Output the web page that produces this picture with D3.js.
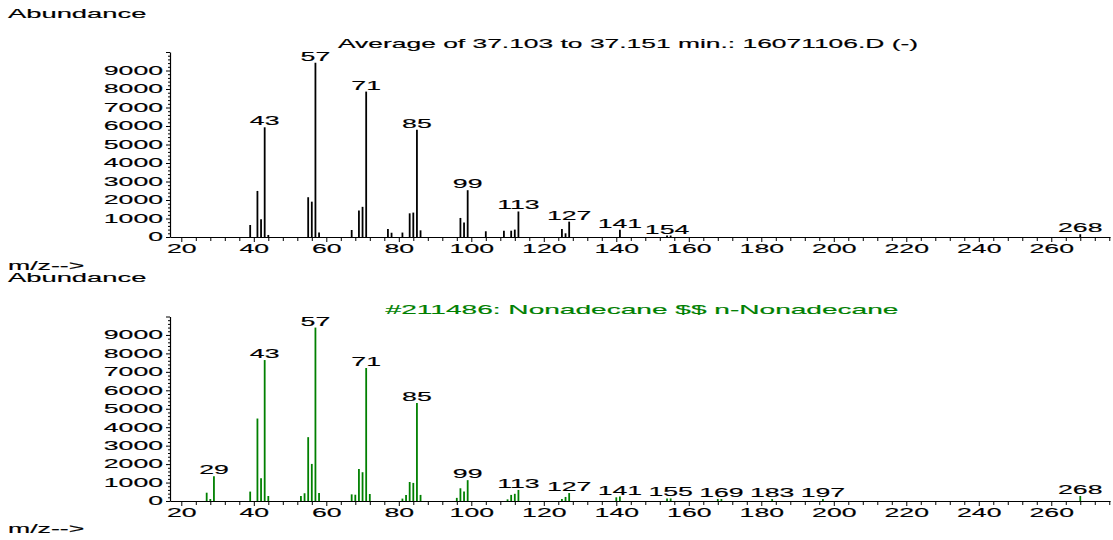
<!DOCTYPE html>
<html>
<head>
<meta charset="utf-8">
<script src="https://cdn.jsdelivr.net/npm/d3@7"></script>
<style>
  body { margin: 0; background: white; }
  text { font-family: "Liberation Sans", Arial, sans-serif; font-size: 12px; }
</style>
</head>
<body>
<div id="vis"></div>
<script>
// scan spectrum (top) and library hit (bottom)
const topMz = [39, 41, 42, 43, 44, 55, 56, 57, 58, 67, 69, 70, 71, 77, 78, 81, 83, 84, 85, 86,
  97, 98, 99, 104, 109, 111, 112, 113, 125, 126, 127, 141, 154, 155, 268];
const topAb = [650, 2490, 960, 5930, 110, 2150, 1910, 9420, 250, 380, 1430, 1630, 7860, 430, 230, 240, 1280, 1320, 5800, 360,
  1030, 780, 2530, 310, 340, 340, 400, 1380, 430, 200, 830, 390, 80, 80, 150];
const topLabels = [43, 57, 71, 85, 99, 113, 127, 141, 154, 268];

const libMz = [27, 28, 29, 39, 41, 42, 43, 44, 53, 54, 55, 56, 57, 58, 67, 68, 69, 70, 71, 72,
  81, 82, 83, 84, 85, 86, 96, 97, 98, 99, 110, 111, 112, 113, 125, 126, 127, 140, 141,
  154, 155, 168, 169, 183, 197, 268];
const libAb = [450, 110, 1340, 510, 4470, 1230, 7640, 270, 270, 420, 3460, 2010, 9400, 430, 360, 340, 1740, 1560, 7210, 380,
  130, 330, 1030, 980, 5310, 330, 170, 690, 510, 1130, 90, 330, 390, 600, 110, 220, 430, 200, 240,
  140, 140, 110, 110, 110, 110, 270];
const libLabels = [29, 43, 57, 71, 85, 99, 113, 127, 141, 155, 169, 183, 197, 268];

const xTicks = d3.range(20, 277, 4);
const yTicks = d3.range(0, 10001, 200);

const W = 1113, H = 540;
const SX = 2.22; // the instrument font is stretched sideways

let svg = d3.select('#vis')
  .append('svg')
  .attr('width', W)
  .attr('height', H)
  .style('background-color', 'white');

// same m/z scale for both panels
let x = d3.scaleLinear().domain([16.88, 276.2]).range([170, 1110]);

function wideText(sel, px, py, sx) {
  return sel.append('text')
    .attr('transform', `translate(${px},${py}) scale(${sx || SX},1)`)
    .attr('stroke', 'currentColor')
    .attr('stroke-width', 0.15);
}

function drawPanel(mz, ab, labels, color, title, titleX, titleSX, y0, y1) {
  let y = d3.scaleLinear().domain([0, 10000]).range([y0, y1]);
  let g = svg.append('g');

  // x axis
  let xa = g.append('g')
    .attr('transform', `translate(0,${y0})`)
    .call(d3.axisBottom(x).tickValues(xTicks).tickSize(4).tickSizeOuter(0)
      .tickFormat(d => d % 20 === 0 ? d : ''));
  xa.select('.domain').attr('stroke-width', 1.2);
  xa.selectAll('.tick line').attr('y2', d => d % 20 === 0 ? 5 : 4);
  xa.selectAll('.tick text')
    .attr('y', 16).attr('dy', 0)
    .attr('transform', `scale(${SX},1)`)
    .attr('fill', 'black')
    .attr('stroke', 'black').attr('stroke-width', 0.15)
    .style('font-size', '12px');

  // y axis
  let ya = g.append('g')
    .attr('transform', 'translate(170,0)')
    .call(d3.axisLeft(y).tickValues(yTicks).tickSize(2).tickSizeOuter(0)
      .tickFormat(d => d % 1000 === 0 && d < 10000 ? d : ''));
  ya.select('.domain').attr('stroke-width', 1.2);
  ya.selectAll('.tick line').attr('x2', d => d % 1000 === 0 ? -4 : -2);
  ya.selectAll('.tick text')
    .attr('x', -7 / SX)
    .attr('transform', `scale(${SX},1)`)
    .attr('fill', 'black')
    .attr('stroke', 'black').attr('stroke-width', 0.15)
    .style('font-size', '12px');

  // sticks
  g.selectAll('.stick')
    .data(mz)
    .join('line')
    .attr('class', 'stick')
    .attr('x1', d => x(d)).attr('x2', d => x(d))
    .attr('y1', y(0))
    .attr('y2', (d, i) => y(ab[i]))
    .attr('stroke', color)
    .attr('stroke-width', 1.8);

  // peak labels
  labels.forEach(m => {
    let a = ab[mz.indexOf(m)];
    wideText(g, x(m), y(a) - 2)
      .attr('text-anchor', 'middle')
      .text(m);
  });

  wideText(g, titleX, y1 - 4 + (y0 === 237 ? 0 : 1), titleSX)
    .attr('text-anchor', 'middle')
    .attr('fill', color)
    .style('color', color)
    .text(title);
}

drawPanel(topMz, topAb, topLabels, 'black',
  'Average of 37.103 to 37.151 min.: 16071106.D (-)', 628, 2.2, 237, 52);
drawPanel(libMz, libAb, libLabels, '#008000',
  '#211486: Nonadecane $$ n-Nonadecane', 642, 2.34, 501, 316.5);

wideText(svg, 8, 17.5, 2.28).text('Abundance');
wideText(svg, 8, 269.5).text('m/z-->');
wideText(svg, 8, 281.5, 2.28).text('Abundance');
wideText(svg, 8, 533).text('m/z-->');
</script>
</body>
</html>
